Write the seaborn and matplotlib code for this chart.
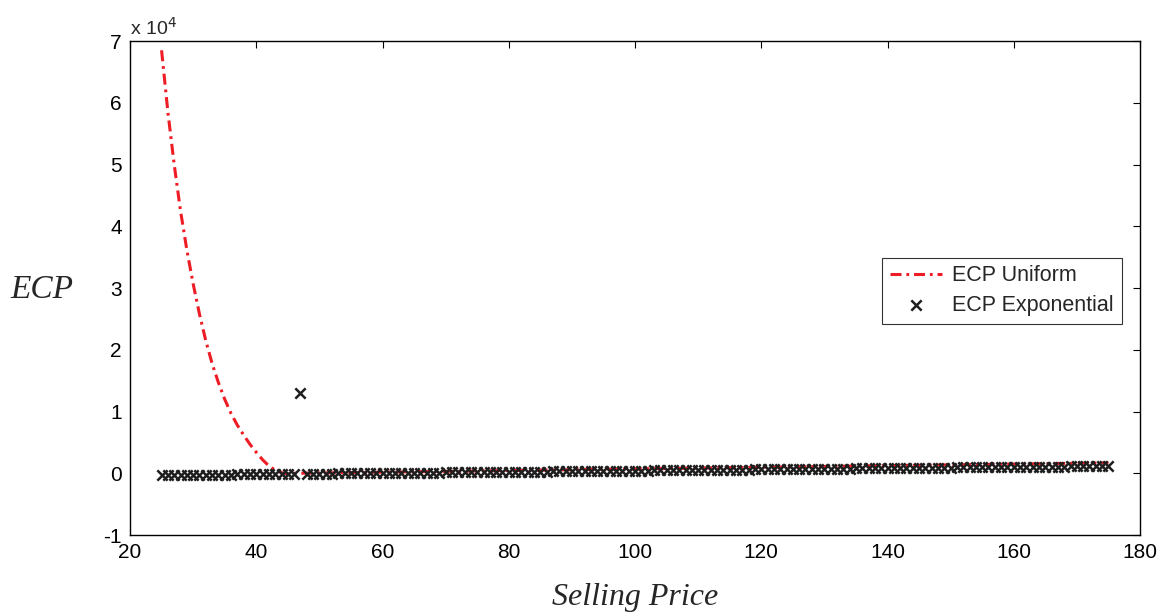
import numpy as np
import pandas as pd
import matplotlib
matplotlib.use('Agg')
import matplotlib.pyplot as plt
from matplotlib.ticker import FuncFormatter
import seaborn as sns

# selling price grid (one point per unit)
price = list(range(25, 176))

# ECP Uniform
ecp_uniform = [
    68500, 58500, 50000, 42500, 36200, 30700, 25800, 21500, 17800, 14700,
    12000, 9700, 7800, 6200, 4700, 3400, 2200, 1200, 500, 100,
    -100, 0,
    10, 30, 40, 50, 70, 80, 90, 110, 120, 130,
    150, 160, 170, 180, 200, 210, 220, 240, 250, 260,
    280, 290, 300, 320, 330, 340, 360, 370, 380, 400,
    410, 420, 430, 450, 460, 470, 490, 500, 510, 530,
    540, 550, 570, 580, 590, 610, 620, 630, 640, 660,
    670, 680, 700, 710, 720, 740, 750, 760, 780, 790,
    800, 820, 830, 840, 850, 870, 880, 890, 910, 920,
    930, 950, 960, 970, 990, 1000, 1010, 1030, 1040, 1050,
    1060, 1080, 1090, 1100, 1120, 1130, 1140, 1160, 1170, 1180,
    1200, 1210, 1220, 1240, 1250, 1260, 1270, 1290, 1300, 1310,
    1330, 1340, 1350, 1370, 1380, 1390, 1410, 1420, 1430, 1450,
    1460, 1470, 1480, 1500, 1510, 1520, 1540, 1550, 1560, 1580,
    1590, 1600, 1620, 1630, 1640, 1660, 1670, 1680, 1690,
]

# ECP Exponential
ecp_expo = [
    -300, -290, -280, -280, -270, -260, -250, -240, -230, -220,
    -210, -200, -190, -180, -170, -160, -150, -140, -130, -120,
    -110, -100, 13000, -80, -70, -60, -50, -40, -30, -20,
    -10, 0, 0, 10, 20, 30, 40, 50, 60, 70,
    80, 90, 100, 110, 120, 130, 140, 150, 160, 170,
    180, 190, 200, 210, 220, 230, 240, 250, 260, 270,
    280, 290, 300, 310, 320, 330, 340, 350, 360, 370,
    380, 390, 400, 410, 420, 430, 440, 450, 460, 470,
    480, 490, 500, 510, 520, 530, 540, 550, 560, 570,
    580, 590, 600, 610, 620, 630, 640, 650, 660, 670,
    680, 690, 700, 710, 720, 730, 740, 750, 760, 770,
    780, 790, 800, 810, 820, 830, 840, 850, 860, 870,
    880, 890, 900, 910, 920, 930, 940, 950, 960, 970,
    980, 990, 1000, 1010, 1020, 1030, 1040, 1050, 1060, 1070,
    1080, 1090, 1100, 1100, 1110, 1110, 1120, 1120, 1130, 1130, 1140,
]

xticks = [20, 40, 60, 80, 100, 120, 140, 160, 180]
yticks = [-10000, 0, 10000, 20000, 30000, 40000, 50000, 60000, 70000]

df = pd.DataFrame({'price': price, 'uniform': ecp_uniform, 'expo': ecp_expo})

sns.set_style('white')
plt.rcParams['font.family'] = ['Liberation Sans', 'DejaVu Sans']

fig = plt.figure(figsize=(11.66, 6.15), dpi=100)
ax = fig.add_axes([0.1115, 0.130, 0.8662, 0.8033])

sns.lineplot(data=df, x='price', y='uniform', ax=ax, color='#ee1c24',
             linewidth=2.2, linestyle=(0, (3.6, 1.6, 0.9, 1.6)), label='ECP Uniform')
sns.scatterplot(data=df, x='price', y='expo', ax=ax, marker='x', color='#1e1e1e',
                s=55, linewidth=1.8, label='ECP Exponential', zorder=3)

ax.set_xlim(20, 180)
ax.set_ylim(-10000, 70000)
ax.set_xticks(xticks)
ax.set_yticks(yticks)
ax.yaxis.set_major_formatter(FuncFormatter(lambda v, p: '%d' % round(v / 1e4)))
ax.tick_params(direction='in', length=5, width=0.8, top=True, right=True,
               labelsize=15, colors='black', pad=6)
for s in ax.spines.values():
    s.set_color('black')
    s.set_linewidth(1.0)

ax.text(0.0, 1.005, r'x 10$^4$', transform=ax.transAxes, fontsize=14,
        ha='left', va='bottom')

ax.set_xlabel('Selling Price', family='Liberation Serif', style='italic', fontsize=23)
ax.xaxis.set_label_coords(0.5, -0.126)
ax.xaxis.label.set_va('center')
ax.set_ylabel('ECP', family='Liberation Serif', style='italic', fontsize=24, rotation=0)
ax.yaxis.set_label_coords(-0.087, 0.496)
ax.yaxis.label.set_va('center')

leg = ax.legend(loc='upper left', bbox_to_anchor=(0.745, 0.561), borderaxespad=0,
                fontsize=15.5, frameon=True, fancybox=False, handlelength=2.4,
                handletextpad=0.5, borderpad=0.35, labelspacing=0.4)
leg.get_frame().set_edgecolor('black')
leg.get_frame().set_linewidth(0.8)

fig.savefig('out.png', dpi=100)
